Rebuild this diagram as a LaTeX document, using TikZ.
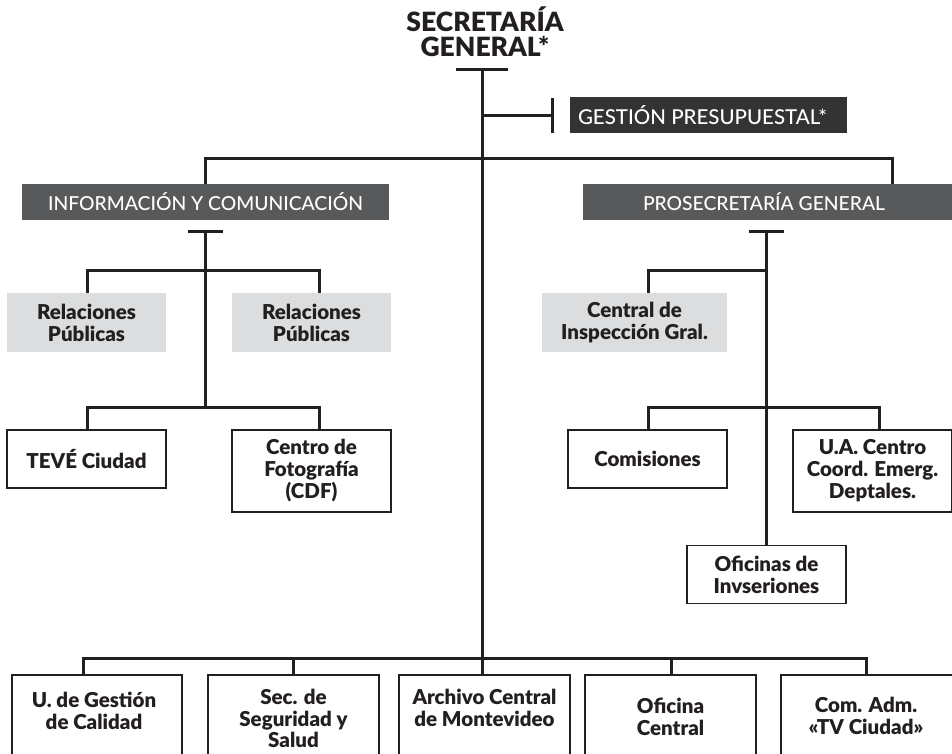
\documentclass[tikz,border=0pt]{standalone}
\usepackage{fontspec}
\setmainfont{Lato}[BoldFont={Lato Black}]
\newfontfamily\headfont{Lato Medium}
\definecolor{ink}{HTML}{231F20}
\definecolor{darkhead}{HTML}{333333}
\definecolor{midhead}{HTML}{58595B}
\definecolor{lightfill}{HTML}{DCDDDE}
\tikzset{
  link/.style={draw=ink, line width=3pt},
  titletext/.style={text=ink, inner sep=0pt, anchor=base,
    font=\fontsize{26.5}{24}\selectfont\bfseries},
  headbox/.style={fill=midhead, text=white, inner sep=0pt,
    minimum height=36pt, font=\headfont\fontsize{19.3}{20}\selectfont},
  shadebox/.style={fill=lightfill, text=ink, inner sep=0pt, align=center,
    minimum width=159pt, minimum height=59pt,
    font=\fontsize{20.5}{22}\selectfont\bfseries},
  unitbox/.style={draw=ink, line width=1.5pt, fill=white, text=ink, inner sep=0pt,
    align=center, minimum width=159pt, minimum height=58pt,
    font=\fontsize{20.5}{22}\selectfont\bfseries},
  rowbox/.style={draw=ink, line width=1.5pt, fill=white, inner sep=0pt,
    anchor=north, minimum height=110pt},
  rowtext/.style={text=ink, align=center, inner sep=0pt, anchor=north,
    font=\fontsize{20.5}{21.5}\selectfont\bfseries},
}
\begin{document}
\begin{tikzpicture}[x=1pt,y=-1pt]
\useasboundingbox (0,0) rectangle (952,754);
\clip (0,0) rectangle (952,754);

% title, one node per line
\node[titletext] (sg1) at (485,32) {SECRETARÍA};
\node[titletext] (sg2) at (485,57) {GENERAL*};

% top-level boxes
\node[headbox, fill=darkhead, minimum width=277pt, font=\headfont\fontsize{20.5}{20}\selectfont]
  (gp) at (708.5,115) {\hspace*{-12pt}GESTIÓN PRESUPUESTAL*};
\node[headbox, minimum width=367pt] (ic) at (205.5,202) {INFORMACIÓN Y COMUNICACIÓN};
\node[headbox, minimum width=372pt] (pg) at (769,202) {\hspace*{-10pt}PROSECRETARÍA GENERAL};

% información y comunicación
\node[shadebox] (rp1) at (86.5,322.5) {Relaciones\\Públicas};
\node[shadebox] (rp2) at (311.5,322.5) {Relaciones\\Públicas};
\node[unitbox] (tv) at (86.5,459) {TEVÉ Ciudad};
\node[unitbox, minimum height=82pt] (cdf) at (311.5,471) {Centro de\\Fotografía\\(CDF)};

% prosecretaría general
\node[shadebox, minimum width=185pt] (cig) at (634.5,322.5) {Central de\\Inspección Gral.};
\node[unitbox] (com) at (647.5,459) {Comisiones};
\node[unitbox, minimum height=82pt] (ua) at (872.5,471) {U.A. Centro\\Coord. Emerg.\\Deptales.};
\node[unitbox] (oi) at (766.5,574.5) {Oficinas de\\Invseriones};

% bottom row (boxes run past the lower edge)
\node[rowbox, minimum width=170pt] (b1) at (97,674) {};
\node[rowbox, minimum width=171pt] (b2) at (293.5,674) {};
\node[rowbox, minimum width=171pt] (b3) at (484.5,674) {};
\node[rowbox, minimum width=171pt] (b4) at (670.5,674) {};
\node[rowbox, minimum width=174pt] (b5) at (868,674) {};
\node[rowtext] (b1t) at (94,692) {U. de Gestión\\de Calidad};
\node[rowtext] (b2t) at (293.5,689) {Sec. de\\Seguridad y\\Salud};
\node[rowtext] (b3t) at (484.5,689) {Archivo Central\\de Montevideo};
\node[rowtext] (b4t) at (670.5,698) {Oficina\\Central};
\node[rowtext] (b5t) at (866,697) {Com. Adm.\\«TV Ciudad»};

% junction points
\coordinate (top) at (482,70);
\coordinate (gpj) at (482,116);
\coordinate (gpt) at (552,116);
\coordinate (hub) at (482,159);
\coordinate (ict) at (205,231);
\coordinate (icj1) at (205,270);
\coordinate (icj2) at (205,407);
\coordinate (pgt) at (766,231);
\coordinate (pgj1) at (766,270);
\coordinate (pgj2) at (766,407);
\coordinate (bus) at (482,658);
\coordinate (bus1) at (83,658);
\coordinate (bus5) at (866,658);

% secretaría general trunk
\draw[link] (456,70) -- (508,70);
\draw[link] (top) -- (bus) -- (b3.north -| bus);
\draw[link] (gpj) -- (gpt);
\draw[link] (552,98) -- (552,133);
\draw[link] (ic.north) |- (hub) -| (pg.north -| 892,0);

% información y comunicación branch
\draw[link] (188,231) -- (223,231);
\draw[link] (ict) -- (icj2);
\draw[link] (rp1.north -| 87,0) |- (icj1) -| (rp2.north -| 319,0);
\draw[link] (tv.north -| 87,0) |- (icj2) -| (cdf.north -| 319,0);

% prosecretaría general branch
\draw[link] (749,231) -- (784,231);
\draw[link] (pgt) -- (oi.north -| pgt);
\draw[link] (cig.north -| 648,0) |- (pgj1);
\draw[link] (com.north -| 648,0) |- (pgj2) -| (ua.north -| 879,0);

% bottom bus
\draw[link] (bus1 |- b1.north) -- (bus1) -- (bus5) -- (bus5 |- b5.north);
\draw[link] (b2.north -| 293,0) -- (293,658);
\draw[link] (b4.north -| 671,0) -- (671,658);
\end{tikzpicture}
\end{document}
